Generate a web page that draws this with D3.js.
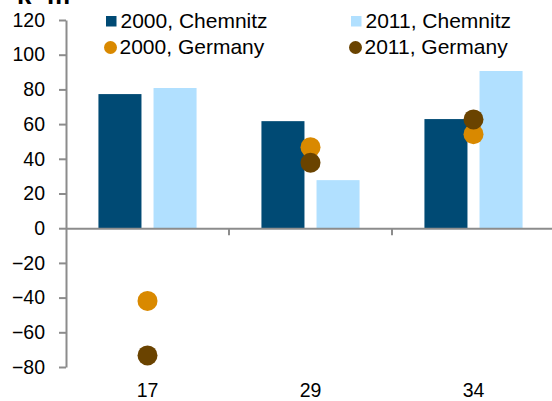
<!DOCTYPE html>
<html>
<head>
<meta charset="utf-8">
<script src="https://cdn.jsdelivr.net/npm/d3@7"></script>
<style>
  html, body { margin: 0; padding: 0; background: #fff; }
  svg { display: block; }
  text { font-family: "Liberation Sans", Arial, sans-serif; }
</style>
</head>
<body>
<svg id="chart" width="552" height="401"></svg>
<script>
// Categories and values
const categories = ["17", "29", "34"];
const chemnitz2000 = [77.3, 61.7, 62.9];
const chemnitz2011 = [80.8, 27.7, 90.6];
const germany2000 = [-41.9, 46.7, 54.2];
const germany2011 = [-73.3, 37.7, 62.7];
const yTicks = [120, 100, 80, 60, 40, 20, 0, -20, -40, -60, -80];
const unitLabel = "km";

const colors = {
  c2000: "#004a74",
  c2011: "#b1e0ff",
  g2000: "#d98900",
  g2011: "#6a4300",
  axis: "#8c8c8c"
};

const svg = d3.select("#chart");
const margin = { left: 66, right: -3, top: 20, bottom: 34 };
const W = 552, H = 401;

const x = d3.scaleBand()
  .domain(categories)
  .range([margin.left, W - margin.right])
  .paddingInner(0).paddingOuter(0);

const y = d3.scaleLinear()
  .domain([-80, 120])
  .range([H - margin.bottom, margin.top]);

// Unit label, mostly above the top edge
svg.append("text")
  .attr("x", 17).attr("y", 4)
  .attr("font-family", "'Liberation Serif', 'Times New Roman', serif")
  .attr("font-weight", "bold")
  .attr("font-size", 26)
  .attr("textLength", 53)
  .text(unitLabel);

// Bars
const barW = x.bandwidth() * 0.264;
const gap = x.bandwidth() * 0.074;
const g = svg.append("g");

g.selectAll("rect.c2000").data(categories).join("rect")
  .attr("class", "c2000")
  .attr("x", d => x(d) + x.bandwidth() / 2 - gap / 2 - barW)
  .attr("width", barW)
  .attr("y", (d, i) => y(Math.max(0, chemnitz2000[i])))
  .attr("height", (d, i) => Math.abs(y(chemnitz2000[i]) - y(0)))
  .attr("fill", colors.c2000);

g.selectAll("rect.c2011").data(categories).join("rect")
  .attr("class", "c2011")
  .attr("x", d => x(d) + x.bandwidth() / 2 + gap / 2)
  .attr("width", barW)
  .attr("y", (d, i) => y(Math.max(0, chemnitz2011[i])))
  .attr("height", (d, i) => Math.abs(y(chemnitz2011[i]) - y(0)))
  .attr("fill", colors.c2011);

// Y axis
const yAxis = svg.append("g")
  .attr("transform", `translate(${margin.left},0)`)
  .call(d3.axisLeft(y).tickValues(yTicks).tickSize(7).tickSizeOuter(0).tickPadding(14));
yAxis.select(".domain").attr("stroke", colors.axis).attr("stroke-width", 2);
yAxis.selectAll(".tick line").attr("stroke", colors.axis).attr("stroke-width", 2);
yAxis.selectAll(".tick text")
  .attr("font-size", 19.5).attr("fill", "#000")
  .attr("font-family", "'Liberation Sans', Arial, sans-serif");

// X axis along zero
const xAxisLine = svg.append("g")
  .attr("transform", `translate(0,${y(0)})`)
  .call(d3.axisBottom(x).tickSize(0).tickSizeOuter(0).tickFormat(""));
xAxisLine.select(".domain").attr("stroke", colors.axis).attr("stroke-width", 2);
xAxisLine.selectAll(".tick").remove();
// Category boundary ticks
xAxisLine.selectAll("line.sep").data(categories.slice(1)).join("line")
  .attr("class", "sep")
  .attr("x1", d => x(d)).attr("x2", d => x(d))
  .attr("y1", 0).attr("y2", 7)
  .attr("stroke", colors.axis).attr("stroke-width", 2);

// Category labels at the bottom
svg.selectAll("text.cat").data(categories).join("text")
  .attr("class", "cat")
  .attr("x", d => x(d) + x.bandwidth() / 2)
  .attr("y", 397)
  .attr("text-anchor", "middle")
  .attr("font-size", 19.5)
  .text(d => d);

// Germany points
const cx = d => x(d) + x.bandwidth() / 2;
svg.selectAll("circle.g2000").data(categories).join("circle")
  .attr("class", "g2000")
  .attr("cx", cx).attr("cy", (d, i) => y(germany2000[i]))
  .attr("r", 10).attr("fill", colors.g2000);
svg.selectAll("circle.g2011").data(categories).join("circle")
  .attr("class", "g2011")
  .attr("cx", cx).attr("cy", (d, i) => y(germany2011[i]))
  .attr("r", 10).attr("fill", colors.g2011);

// Legend
const legendItems = [
  { label: "2000, Chemnitz", color: colors.c2000, shape: "rect", x: 105, y: 21.5 },
  { label: "2011, Chemnitz", color: colors.c2011, shape: "rect", x: 350, y: 21.5 },
  { label: "2000, Germany", color: colors.g2000, shape: "circle", x: 104, y: 47.5 },
  { label: "2011, Germany", color: colors.g2011, shape: "circle", x: 349, y: 47.5 }
];
const leg = svg.append("g");
legendItems.forEach(it => {
  if (it.shape === "rect") {
    leg.append("rect").attr("x", it.x + 1).attr("y", it.y - 5.5)
      .attr("width", 10.5).attr("height", 10.5).attr("fill", it.color);
  } else {
    leg.append("circle").attr("cx", it.x + 6.5).attr("cy", it.y)
      .attr("r", 6.5).attr("fill", it.color);
  }
  leg.append("text").attr("x", it.x + 15.5).attr("y", it.y + 6.8)
    .attr("font-size", 21).attr("fill", "#000").text(it.label);
});
</script>
</body>
</html>
